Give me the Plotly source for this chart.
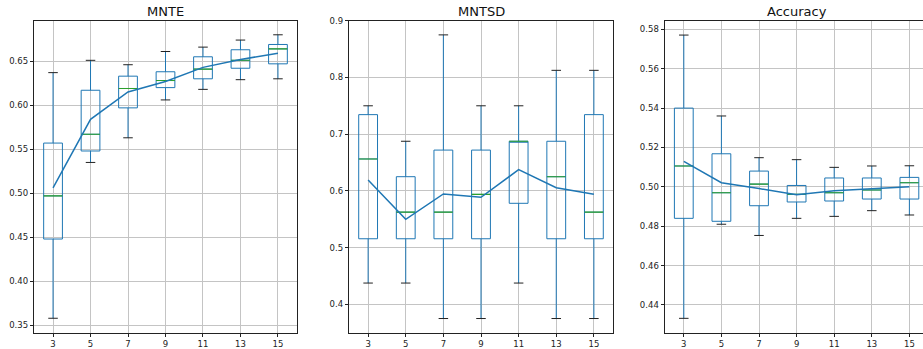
import plotly.graph_objects as go

# ---------------- data ----------------
k_labels = ["3", "5", "7", "9", "11", "13", "15"]

mnte_low = [0.358, 0.535, 0.563, 0.606, 0.618, 0.629, 0.630]
mnte_q1 = [0.448, 0.548, 0.597, 0.620, 0.630, 0.642, 0.647]
mnte_med = [0.497, 0.567, 0.619, 0.628, 0.641, 0.651, 0.664]
mnte_q3 = [0.557, 0.617, 0.633, 0.638, 0.655, 0.663, 0.669]
mnte_high = [0.637, 0.651, 0.646, 0.661, 0.666, 0.674, 0.680]
mnte_mean = [0.506, 0.584, 0.615, 0.627, 0.643, 0.652, 0.659]

mntsd_low = [0.4375, 0.4375, 0.375, 0.375, 0.4375, 0.375, 0.375]
mntsd_q1 = [0.5156, 0.5156, 0.5156, 0.5156, 0.5781, 0.5156, 0.5156]
mntsd_med = [0.6563, 0.5625, 0.5625, 0.5938, 0.6875, 0.625, 0.5625]
mntsd_q3 = [0.7344, 0.625, 0.6719, 0.6719, 0.6875, 0.6875, 0.7344]
mntsd_high = [0.75, 0.6875, 0.875, 0.75, 0.75, 0.8125, 0.8125]
mntsd_mean = [0.619, 0.550, 0.5945, 0.5886, 0.6374, 0.6056, 0.594]

acc_low = [0.4332, 0.481, 0.4753, 0.484, 0.485, 0.4879, 0.4857]
acc_q1 = [0.484, 0.4825, 0.4904, 0.4923, 0.4928, 0.4938, 0.4938]
acc_med = [0.5106, 0.497, 0.5014, 0.4962, 0.497, 0.4984, 0.5021]
acc_q3 = [0.54, 0.5168, 0.508, 0.5007, 0.5045, 0.5045, 0.5048]
acc_high = [0.5771, 0.536, 0.5148, 0.5138, 0.5099, 0.5106, 0.5107]
acc_mean = [0.5129, 0.5021, 0.4991, 0.496, 0.498, 0.4991, 0.5001]

titles = ["MNTE", "MNTSD", "Accuracy"]

# ---------------- style ----------------
BLUE = "#1f77b4"
GREEN = "#2ca02c"
FONT = "DejaVu Sans"
W, H = 923, 349

panels = [
    dict(low=mnte_low, q1=mnte_q1, med=mnte_med, q3=mnte_q3, high=mnte_high, mean=mnte_mean,
         xd=(34.3, 296.7), yr=(0.3416, 0.696), dtick=0.05, fmt=".2f", xr=(-0.5, 6.5), mirror_y=True),
    dict(low=mntsd_low, q1=mntsd_q1, med=mntsd_med, q3=mntsd_q3, high=mntsd_high, mean=mntsd_mean,
         xd=(349.3, 612.7), yr=(0.35, 0.9), dtick=0.1, fmt=".1f", xr=(-0.5, 6.5), mirror_y=True),
    dict(low=acc_low, q1=acc_q1, med=acc_med, q3=acc_q3, high=acc_high, mean=acc_mean,
         xd=(665.0, 923.0), yr=(0.4259, 0.5844), dtick=0.02, fmt=".2f", xr=(-0.5, 6.362), mirror_y=False),
]

y_top, y_bot = 20.7, 332.7

fig = go.Figure()
layout = {}
for i, p in enumerate(panels):
    n = "" if i == 0 else str(i + 1)
    xa, ya = "x" + n, "y" + n
    fig.add_trace(go.Box(
        x=k_labels, q1=p["q1"], median=p["med"], q3=p["q3"],
        lowerfence=p["low"], upperfence=p["high"],
        width=0.5, whiskerwidth=0, fillcolor="rgba(0,0,0,0)",
        line=dict(color=BLUE, width=1), boxpoints=False,
        xaxis=xa, yaxis=ya, showlegend=False, hoverinfo="skip"))
    # medians (green)
    fig.add_trace(go.Scatter(
        x=k_labels, y=p["med"], mode="markers",
        marker=dict(symbol="line-ew", size=13.4, line=dict(color=GREEN, width=1.1)),
        xaxis=xa, yaxis=ya, showlegend=False, hoverinfo="skip"))
    # caps (black)
    fig.add_trace(go.Scatter(
        x=k_labels + k_labels, y=p["low"] + p["high"], mode="markers",
        marker=dict(symbol="line-ew", size=6.8, line=dict(color="#222222", width=1)),
        xaxis=xa, yaxis=ya, showlegend=False, hoverinfo="skip"))
    # mean line
    fig.add_trace(go.Scatter(
        x=k_labels, y=p["mean"], mode="lines",
        line=dict(color=BLUE, width=1.5),
        xaxis=xa, yaxis=ya, showlegend=False, hoverinfo="skip"))

    layout["xaxis" + n] = dict(
        domain=[p["xd"][0] / W, min(p["xd"][1] / W, 1.0)], anchor=ya,
        type="category", range=list(p["xr"]),
        showgrid=True, gridcolor="#c4c4c4", gridwidth=0.8,
        showline=True, linecolor="#222222", linewidth=1, mirror=True,
        ticks="outside", ticklen=3.5, tickwidth=0.8, tickcolor="#222222",
        tickfont=dict(family=FONT, size=8.5, color="#222222"),
        fixedrange=True, automargin=False, zeroline=False)
    layout["yaxis" + n] = dict(
        domain=[1 - y_bot / H, 1 - y_top / H], anchor=xa,
        range=list(p["yr"]), dtick=p["dtick"], tick0=0, tickformat=p["fmt"],
        showgrid=True, gridcolor="#c4c4c4", gridwidth=0.8,
        showline=True, linecolor="#222222", linewidth=1, mirror=p["mirror_y"],
        ticks="outside", ticklen=3.5, tickwidth=0.8, tickcolor="#222222",
        tickfont=dict(family=FONT, size=8.5, color="#222222"),
        fixedrange=True, automargin=False, zeroline=False)

annotations = []
for i, p in enumerate(panels):
    cx = (p["xd"][0] + (p["xd"][1] if i < 2 else 928.0)) / 2 / W
    annotations.append(dict(
        text=titles[i], x=cx, y=1 - 11.7 / H, xref="paper", yref="paper",
        xanchor="center", yanchor="middle", showarrow=False,
        font=dict(family=FONT, size=13, color="#111111")))

fig.update_layout(
    width=W, height=H,
    margin=dict(l=0, r=0, t=0, b=0),
    paper_bgcolor="white", plot_bgcolor="white",
    annotations=annotations,
    showlegend=False,
    **layout)

fig.write_html("out.html", config={"displayModeBar": False})
